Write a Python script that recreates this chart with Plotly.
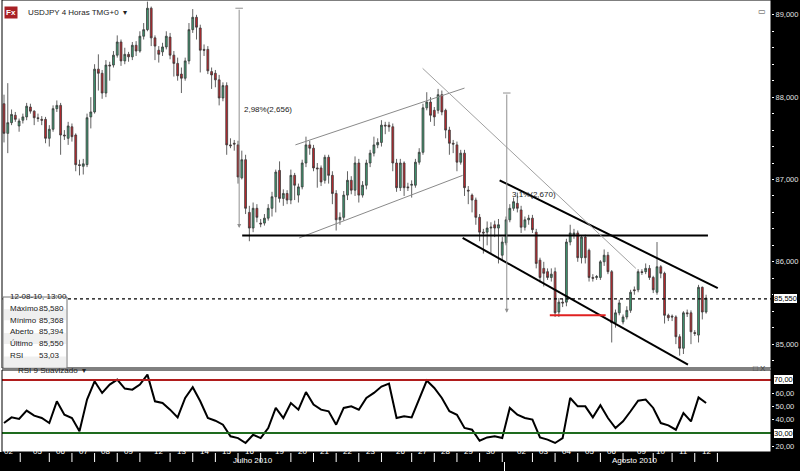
import plotly.graph_objects as go

# 4h candles, USDJPY 02-07-2010 .. 12-08-2010
opens = [87.92, 87.56, 87.69, 87.78, 87.65, 87.72, 87.76, 87.88, 87.83, 87.75,
         87.73, 87.73, 87.50, 87.61, 87.86, 87.90, 87.54, 87.50, 87.64, 87.54,
         87.18, 87.16, 87.18, 87.76, 87.82, 88.34, 88.29, 88.05, 88.39, 88.39,
         88.51, 88.67, 88.44, 88.52, 88.49, 88.63, 88.56, 88.74, 88.82, 89.08,
         88.72, 88.57, 88.55, 88.61, 88.73, 88.51, 88.41, 88.28, 88.23, 88.44,
         88.82, 88.97, 88.84, 88.58, 88.58, 88.31, 88.29, 88.21, 87.99, 88.14,
         87.42, 87.44, 87.42, 87.02, 87.24, 86.60, 86.41, 86.65, 86.47, 86.47,
         86.53, 86.65, 86.79, 87.11, 86.77, 86.83, 86.75, 87.05, 86.81, 86.91,
         87.20, 87.42, 87.38, 87.14, 87.14, 86.99, 87.27, 87.05, 86.83, 86.51,
         86.54, 86.81, 86.99, 86.87, 87.20, 86.81, 86.93, 87.20, 87.32, 87.42,
         87.45, 87.66, 87.66, 87.64, 87.20, 86.90, 87.20, 86.91, 86.93, 86.93,
         87.21, 87.33, 87.87, 87.94, 87.84, 87.84, 88.03, 87.84, 87.60, 87.44,
         87.42, 87.21, 87.32, 86.87, 86.81, 86.75, 86.54, 86.36, 86.36, 86.41,
         86.45, 86.41, 86.08, 86.23, 86.51, 86.65, 86.71, 86.63, 86.42, 86.51,
         86.53, 86.36, 86.02, 85.92, 85.88, 85.81, 85.88, 85.39, 85.51, 85.51,
         86.24, 86.32, 86.35, 86.05, 86.30, 86.14, 85.81, 85.81, 85.81, 86.00,
         86.08, 85.88, 85.26, 85.38, 85.27, 85.33, 85.41, 85.66, 85.66, 85.88,
         85.88, 85.92, 85.81, 85.63, 85.94, 85.86, 85.35, 85.34, 85.33, 85.09,
         84.95, 85.38, 85.38, 85.14, 85.11, 85.69, 85.39]
closes = [87.56, 87.69, 87.79, 87.73, 87.71, 87.76, 87.89, 87.83, 87.75, 87.74,
          87.72, 87.50, 87.61, 87.86, 87.90, 87.54, 87.53, 87.65, 87.52, 87.18,
          87.17, 87.19, 87.75, 87.82, 88.34, 88.29, 88.05, 88.39, 88.38, 88.51,
          88.67, 88.44, 88.52, 88.49, 88.63, 88.56, 88.74, 88.82, 89.08, 88.72,
          88.62, 88.52, 88.61, 88.74, 88.51, 88.41, 88.26, 88.23, 88.44, 88.82,
          88.97, 88.85, 88.57, 88.57, 88.32, 88.27, 88.21, 87.99, 88.14, 87.42,
          87.41, 87.43, 87.03, 87.24, 86.65, 86.41, 86.65, 86.54, 86.46, 86.53,
          86.65, 86.79, 87.09, 86.77, 86.83, 86.75, 87.05, 86.93, 86.91, 87.20,
          87.42, 87.38, 87.14, 87.13, 86.97, 87.27, 87.05, 86.83, 86.51, 86.54,
          86.81, 86.99, 86.87, 87.20, 86.81, 86.93, 87.20, 87.32, 87.42, 87.45,
          87.66, 87.65, 87.64, 87.20, 86.90, 87.20, 86.90, 86.90, 86.94, 87.21,
          87.33, 87.87, 87.94, 87.78, 87.76, 88.03, 87.82, 87.60, 87.44, 87.43,
          87.21, 87.32, 86.90, 86.86, 86.75, 86.54, 86.36, 86.35, 86.41, 86.42,
          86.41, 86.45, 86.24, 86.51, 86.65, 86.73, 86.65, 86.42, 86.51, 86.53,
          86.39, 85.98, 85.81, 85.86, 85.81, 85.85, 85.38, 85.51, 85.50, 86.24,
          86.35, 86.35, 86.05, 86.30, 86.05, 85.81, 85.80, 85.82, 86.00, 86.08,
          85.88, 85.26, 85.38, 85.50, 85.33, 85.41, 85.63, 85.65, 85.88, 85.87,
          85.92, 85.81, 85.66, 85.94, 85.86, 85.35, 85.32, 85.33, 85.09, 84.95,
          85.38, 85.37, 85.15, 85.13, 85.69, 85.39, 85.56]
highs = [88.03, 88.17, 87.85, 87.82, 87.74, 87.80, 87.93, 87.92, 87.84, 87.80,
         87.77, 87.76, 87.66, 87.90, 87.96, 87.93, 87.60, 87.70, 87.68, 87.56,
         87.24, 87.25, 87.80, 88.00, 88.40, 88.52, 88.33, 88.45, 88.43, 88.56,
         88.75, 88.70, 88.60, 88.55, 88.67, 88.68, 88.80, 88.90, 89.16, 89.10,
         88.75, 88.62, 88.66, 88.80, 88.78, 88.56, 88.48, 88.36, 88.48, 88.90,
         89.07, 89.00, 88.88, 88.64, 88.62, 88.36, 88.33, 88.27, 88.18, 88.18,
         87.50, 87.48, 87.47, 87.35, 87.30, 86.68, 86.72, 86.70, 86.52, 86.58,
         86.70, 86.85, 87.12, 87.22, 86.88, 86.87, 87.12, 87.08, 86.95, 87.24,
         87.52, 87.47, 87.42, 87.20, 87.17, 87.30, 87.30, 87.10, 86.87, 86.60,
         86.86, 87.10, 87.04, 87.28, 87.25, 86.98, 87.24, 87.36, 87.52, 87.50,
         87.72, 87.70, 87.70, 87.68, 87.25, 87.25, 87.22, 86.96, 86.99, 87.25,
         87.38, 87.92, 88.06, 88.00, 87.88, 88.10, 88.08, 87.86, 87.64, 87.48,
         87.46, 87.36, 87.36, 86.92, 86.83, 86.78, 86.58, 86.40, 86.49, 86.48,
         86.50, 86.52, 86.30, 86.55, 86.70, 86.78, 86.84, 86.68, 86.55, 86.57,
         86.57, 86.40, 86.05, 86.00, 85.92, 85.92, 85.93, 85.56, 85.55, 86.28,
         86.45, 86.40, 86.38, 86.32, 86.33, 86.16, 85.85, 85.84, 86.02, 86.15,
         86.12, 85.90, 85.42, 85.54, 85.36, 85.46, 85.66, 85.70, 85.91, 85.91,
         85.98, 85.96, 85.83, 86.24, 85.96, 85.88, 85.37, 85.36, 85.35, 85.12,
         85.40, 85.42, 85.41, 85.17, 85.72, 85.70, 85.60]
lows = [87.45, 87.32, 87.66, 87.70, 87.58, 87.68, 87.72, 87.80, 87.66, 87.70,
        87.66, 87.44, 87.40, 87.58, 87.82, 87.30, 87.48, 87.42, 87.46, 87.10,
        87.05, 87.06, 87.15, 87.62, 87.80, 88.08, 87.98, 88.00, 88.20, 88.36,
        88.48, 88.38, 88.40, 88.43, 88.45, 88.50, 88.54, 88.70, 88.80, 88.62,
        88.45, 88.42, 88.50, 88.58, 88.46, 88.25, 88.20, 88.05, 88.20, 88.40,
        88.78, 88.70, 88.30, 88.50, 88.28, 88.10, 88.12, 87.90, 87.95, 87.30,
        87.38, 87.35, 86.95, 87.00, 86.58, 86.25, 86.36, 86.48, 86.42, 86.44,
        86.50, 86.55, 86.60, 86.72, 86.68, 86.70, 86.70, 86.75, 86.72, 86.88,
        87.15, 87.30, 87.10, 86.90, 86.92, 86.95, 86.95, 86.70, 86.38, 86.45,
        86.50, 86.75, 86.82, 86.80, 86.72, 86.78, 86.88, 87.15, 87.28, 87.38,
        87.40, 87.55, 87.58, 87.10, 86.85, 86.86, 86.80, 86.86, 86.78, 86.90,
        87.18, 87.30, 87.84, 87.70, 87.65, 87.80, 87.78, 87.50, 87.30, 87.32,
        87.10, 87.18, 86.80, 86.70, 86.60, 86.45, 86.25, 86.10, 86.20, 86.10,
        86.30, 85.98, 86.02, 86.20, 86.48, 86.62, 86.60, 86.35, 86.38, 86.45,
        86.35, 85.92, 85.75, 85.70, 85.78, 85.76, 85.33, 85.33, 85.45, 85.46,
        86.20, 86.28, 86.00, 85.98, 85.98, 85.76, 85.76, 85.78, 85.78, 85.95,
        85.85, 85.02, 85.20, 85.35, 85.24, 85.30, 85.38, 85.60, 85.63, 85.84,
        85.85, 85.78, 85.62, 85.60, 85.80, 85.25, 85.28, 85.28, 85.00, 84.86,
        84.88, 85.33, 85.00, 85.10, 85.02, 85.30, 85.37]

# RSI 9 smoothed, one reading every second candle
rsi = [37.5, 41.8, 40.6, 46.9, 43.1, 41.3, 37.5, 53.9, 43.8, 41.3,
       31.3, 55.2, 69.0, 60.2, 66.5, 70.2, 63.5, 62.7, 66.5, 74.0,
       53.9, 52.6, 47.6, 41.8, 56.4, 64.5, 53.9, 41.3, 39.3, 36.3,
       27.5, 26.2, 22.5, 28.7, 26.2, 33.8, 48.9, 41.3, 52.6, 47.6,
       60.9, 51.4, 47.6, 46.4, 36.3, 48.9, 50.1, 47.6, 56.4, 60.2,
       65.0, 67.2, 41.3, 42.6, 41.8, 56.4, 69.5, 64.0, 56.4, 46.4,
       43.8, 33.8, 32.5, 24.2, 26.7, 27.5, 26.2, 48.9, 43.8, 41.3,
       40.1, 26.7, 25.0, 22.5, 26.2, 56.4, 50.1, 50.1, 41.8, 50.9,
       41.3, 33.8, 38.8, 46.4, 54.4, 55.2, 48.9, 37.5, 35.8, 32.5,
       45.1, 38.8, 56.9, 52.6]

day_labels = ["02", "05", "06", "07", "08", "09", "12", "13", "14", "15", "16",
              "19", "20", "21", "22", "23", "26", "27", "28", "29", "30",
              "02", "03", "04", "05", "06", "09", "10", "11", "12"]
day_pos = [1.3, 9, 15, 21, 27, 33, 41, 47, 53, 59, 65, 73, 79, 85, 91, 97,
           105, 111, 117, 123, 129, 137, 143, 149, 155, 161, 169, 174, 180, 186]
month_labels = ["Julho 2010", "Agosto 2010"]
month_pos = [66, 167]

last_price = 85.55
info_rows = [("12-08-10, 13:00", ""), ("Máximo", "85,580"), ("Mínimo", "85,368"),
             ("Aberto", "85,394"), ("Último", "85,550"), ("RSI", "53,03")]

# drawn objects: (x0, y0, x1, y1) in candle index / price
channel_up = [(77.2, 87.42, 122, 88.11), (78.2, 86.29, 121.5, 87.05)]
channel_down = [(131.3, 86.99, 189.1, 85.68), (121.5, 86.29, 181.2, 84.75)]
support = (63.1, 86.32, 186.5, 86.32)
grey_trend = (110.9, 88.35, 167.4, 85.92)
red_mark = (144.6, 85.35, 159.4, 85.35)
measures = [(62.3, 89.08, 86.41, "2,98%(2,656)"), (133.2, 88.05, 85.38, "3,1%(2,670)")]

W, H = 800, 471
ML, MR, MT, MB = 2, 29, 0, 19
PW, PH = W - ML - MR, H - MT - MB
x_range = [-0.53, 203.2]


def px(x):
    return (x - ML) / PW


def py(y):
    return (H - MB - y) / PH


GREEN = "#3f9a72"
RED = "#c1272d"
FONT = "Liberation Sans"

fig = go.Figure()
idx = list(range(len(closes)))
fig.add_trace(go.Candlestick(
    x=idx, open=opens, high=highs, low=lows, close=closes,
    increasing=dict(fillcolor=GREEN, line=dict(color="#3a3a3a", width=0.8)),
    decreasing=dict(fillcolor=RED, line=dict(color="#3a3a3a", width=0.8)),
    whiskerwidth=0, showlegend=False, hoverinfo="skip", xaxis="x", yaxis="y"))
fig.add_trace(go.Scatter(
    x=list(range(0, len(closes), 2)), y=rsi, mode="lines",
    line=dict(color="black", width=2), showlegend=False, xaxis="x2", yaxis="y2"))

shapes = []
# black right strip and bottom band
shapes.append(dict(type="rect", xref="paper", yref="paper", x0=1, x1=px(800), y0=py(471), y1=py(0),
                   fillcolor="black", line=dict(width=0), layer="below"))
shapes.append(dict(type="rect", xref="paper", yref="paper", x0=px(0), x1=px(800), y0=py(471), y1=py(452),
                   fillcolor="black", line=dict(width=0), layer="below"))
for x0, y0, x1, y1 in channel_up:
    shapes.append(dict(type="line", xref="x", yref="y", x0=x0, y0=y0, x1=x1, y1=y1,
                       line=dict(color="#8a8a8a", width=1)))
for x0, y0, x1, y1 in channel_down:
    shapes.append(dict(type="line", xref="x", yref="y", x0=x0, y0=y0, x1=x1, y1=y1,
                       line=dict(color="black", width=2)))
shapes.append(dict(type="line", xref="x", yref="y", x0=support[0], y0=support[1],
                   x1=support[2], y1=support[3], line=dict(color="black", width=2)))
shapes.append(dict(type="line", xref="x", yref="y", x0=grey_trend[0], y0=grey_trend[1],
                   x1=grey_trend[2], y1=grey_trend[3], line=dict(color="#a0a0a0", width=1)))
shapes.append(dict(type="line", xref="x", yref="y", x0=red_mark[0], y0=red_mark[1],
                   x1=red_mark[2], y1=red_mark[3], line=dict(color="#e02020", width=2)))
shapes.append(dict(type="line", xref="x", yref="y", x0=x_range[0], x1=x_range[1],
                   y0=last_price, y1=last_price, line=dict(color="black", width=1.2, dash="dot")))
for xm, ytop, ybot, _ in measures:
    shapes.append(dict(type="line", xref="x", yref="y", x0=xm - 1, x1=xm + 1, y0=ytop, y1=ytop,
                       line=dict(color="#909090", width=1)))
shapes.append(dict(type="line", xref="x2", yref="y2", x0=x_range[0], x1=x_range[1], y0=70, y1=70,
                   line=dict(color="#b01c1c", width=2)))
shapes.append(dict(type="line", xref="x2", yref="y2", x0=x_range[0], x1=x_range[1], y0=30, y1=30,
                   line=dict(color="#1e6b1e", width=2)))
# panel frames
shapes.append(dict(type="rect", xref="paper", yref="paper", x0=0, x1=1, y0=py(368), y1=1,
                   line=dict(color="black", width=1)))
shapes.append(dict(type="rect", xref="paper", yref="paper", x0=0, x1=1, y0=0, y1=py(370),
                   line=dict(color="black", width=1)))
# info box
shapes.append(dict(type="rect", xref="paper", yref="paper", x0=px(3), x1=px(67), y0=py(368), y1=py(297),
                   fillcolor="white", line=dict(color="#777", width=1)))

annotations = []
for i, (name, val) in enumerate(info_rows):
    yy = 303 + i * 11.8
    if i % 2 == 1:
        shapes.append(dict(type="rect", xref="paper", yref="paper", x0=px(4), x1=px(66),
                           y0=py(yy + 5.5), y1=py(yy - 5.5), fillcolor="#efefef", line=dict(width=0)))
    annotations.append(dict(xref="paper", yref="paper", x=px(8), y=py(yy), text=name, showarrow=False,
                            xanchor="left", font=dict(family=FONT, size=8, color="#222")))
    if val:
        annotations.append(dict(xref="paper", yref="paper", x=px(37), y=py(yy), text=val, showarrow=False,
                                xanchor="left", font=dict(family=FONT, size=8, color="#222")))

for xm, ytop, ybot, label in measures:
    annotations.append(dict(xref="x", yref="y", x=xm, y=ybot, ax=xm, ay=ytop, axref="x", ayref="y",
                            showarrow=True, arrowhead=2, arrowsize=0.8, arrowwidth=1,
                            arrowcolor="#909090", text=""))
    annotations.append(dict(xref="x", yref="y", x=xm + 0.8, y=(ytop + ybot) / 2 + 0.1, text=label,
                            showarrow=False, xanchor="left",
                            font=dict(family=FONT, size=8, color="#222")))

for lab, pos in zip(day_labels, day_pos):
    annotations.append(dict(xref="x", yref="paper", x=pos, y=py(457.5), text=lab, showarrow=False,
                            font=dict(family=FONT, size=8, color="white")))
    shapes.append(dict(type="line", xref="x", yref="paper", x0=pos + 3, x1=pos + 3,
                       y0=py(462), y1=py(453), line=dict(color="white", width=1)))
for lab, pos in zip(month_labels, month_pos):
    annotations.append(dict(xref="x", yref="paper", x=pos, y=py(466.5), text=lab, showarrow=False,
                            font=dict(family=FONT, size=8, color="white")))
shapes.append(dict(type="line", xref="x", yref="paper", x0=132.6, x1=132.6, y0=py(471), y1=py(462),
                   line=dict(color="white", width=1)))

annotations.append(dict(xref="paper", yref="paper", x=px(4), y=py(6), xanchor="left",
                        text="<b>Fx</b>", showarrow=False, borderpad=1,
                        font=dict(family=FONT, size=8, color="white"), bgcolor="#a82025"))
annotations.append(dict(xref="paper", yref="paper", x=px(26), y=py(6), xanchor="left",
                        text="USDJPY 4 Horas TMG+0  ▾", showarrow=False,
                        font=dict(family=FONT, size=8, color="#222")))
annotations.append(dict(xref="paper", yref="paper", x=px(16), y=py(377), xanchor="left",
                        text="RSI 9 Suavizado  ▾", showarrow=False,
                        font=dict(family=FONT, size=8, color="#222")))
annotations.append(dict(xref="paper", yref="paper", x=px(768), y=py(375), xanchor="right",
                        text="□ X", showarrow=False, font=dict(family=FONT, size=8, color="#444")))
annotations.append(dict(xref="paper", yref="paper", x=px(768), y=py(5), xanchor="right",
                        text="▭", showarrow=False, font=dict(family=FONT, size=8, color="#444")))
annotations.append(dict(xref="paper", yref="y", x=1.002, y=last_price, xanchor="left", text="85,550",
                        showarrow=False, bgcolor="white", bordercolor="black", borderwidth=1, borderpad=0,
                        font=dict(family=FONT, size=7.5, color="black")))
for v in [70, 30]:
    annotations.append(dict(xref="paper", yref="y2", x=1.002, y=v, xanchor="left", text=f"{v},00",
                            showarrow=False, bgcolor="white", bordercolor="black", borderwidth=1,
                            borderpad=0, font=dict(family=FONT, size=7.5, color="black")))

axis_common = dict(showgrid=False, zeroline=False, showline=False)
tick_common = dict(ticks="outside", ticklen=2, tickcolor="white",
                   tickfont=dict(size=7.5, color="#e0e0e0"))
fig.update_layout(
    width=W, height=H, margin=dict(l=ML, r=MR, t=MT, b=MB),
    paper_bgcolor="white", plot_bgcolor="white", separators=", ",
    font=dict(family=FONT, size=8, color="#222"),
    xaxis=dict(domain=[0, 1], range=x_range, anchor="y", showticklabels=False,
               rangeslider=dict(visible=False), **axis_common),
    xaxis2=dict(domain=[0, 1], range=x_range, anchor="y2", showticklabels=False,
                matches="x", **axis_common),
    yaxis=dict(domain=[py(368), 1], range=[84.71, 89.18], side="right",
               tickvals=[85, 86, 87, 88, 89], tickformat=".3f",
               minor=dict(dtick=0.2, ticks="outside", ticklen=2, tickcolor="white"),
               **tick_common, **axis_common),
    yaxis2=dict(domain=[0, py(370)], range=[15.7, 77.5], side="right",
                tickvals=[20, 40, 50, 60], tickformat=".2f",
                **tick_common, **axis_common),
    shapes=shapes, annotations=annotations,
)

fig.write_html("out.html", config={"displayModeBar": False},
               post_script="document.body.style.margin='0';document.body.style.overflow='hidden';")
